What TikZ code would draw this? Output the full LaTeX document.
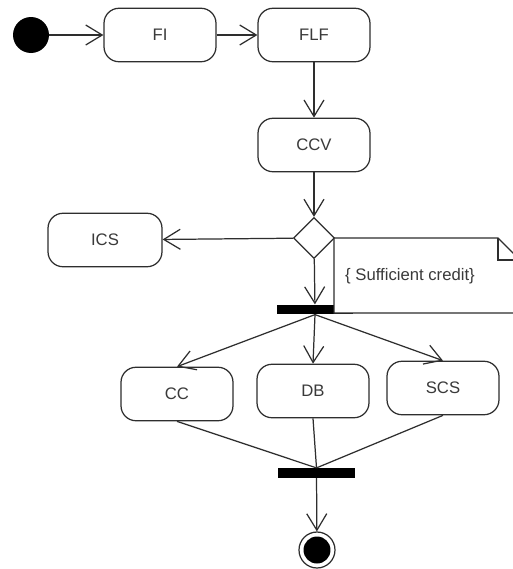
\documentclass[tikz,border=0pt]{standalone}
\usepackage{fontspec}
\setmainfont{Liberation Sans}
\usepackage{xcolor}
\usepackage{tikz}
\usetikzlibrary{arrows.meta,shapes.geometric}
\definecolor{ink}{HTML}{3A3A3A}
\definecolor{edge}{HTML}{2E2E2E}
\tikzset{
  act/.style={draw=edge, rounded corners=0.3cm, line width=0.7pt, minimum width=2.24cm,
    minimum height=1.07cm, inner sep=0pt, text=ink, font=\fontsize{9.5}{11}\selectfont},
  flow/.style={draw=edge, line width=0.7pt, -{Straight Barb[length=3.3mm,width=4mm,line width=0.7pt]}},
  plain/.style={draw=edge, line width=0.7pt},
  bar/.style={fill=black, minimum width=1.54cm, minimum height=0.19cm, inner sep=0pt},
  choice/.style={draw=edge, diamond, aspect=1, minimum width=0.82cm, minimum height=0.82cm,
    inner sep=0pt, line width=0.7pt},
  guard/.style={text=ink, font=\fontsize{9.5}{11}\selectfont, anchor=west}
}
\begin{document}
\begin{tikzpicture}[x=0.02cm, y=-0.02cm]
  \clip (0,0) rectangle (513,569);
  \fill[white] (0,0) rectangle (513,569);

  \node[circle, fill=black, minimum size=0.72cm, inner sep=0pt] (start) at (31,35) {};
  \node[act] (fi) at (160,35) {FI};
  \node[act] (flf) at (314,35) {FLF};
  \node[act] (ccv) at (314,145) {CCV};
  \node[choice] (dec) at (314,238) {};
  \node[act, minimum width=2.28cm] (ics) at (105,240) {ICS};
  \node[bar] (fork) at (315,309.5) {};

  % note with folded corner, runs past the right edge
  \draw[plain, fill=white] (334,238) -- (498,238) -- (520,260) -- (520,313) -- (334,313) -- cycle;
  \draw[plain] (498,238) -- (498,260) -- (520,260);
  \node[guard] (cond) at (339,276) {\{ Sufficient credit\}};

  \node[act] (cc) at (177,394) {CC};
  \node[act] (db) at (313,391) {DB};
  \node[act] (scs) at (443,388) {SCS};
  \node[bar] (join) at (316.5,473) {};
  \node[circle, draw=edge, line width=0.7pt, minimum size=0.72cm, inner sep=0pt] (end) at (317,550) {};
  \fill[black] (end.center) circle (0.27cm);

  \draw[flow] (start) -- (fi);
  \draw[flow] (fi) -- (flf);
  \draw[flow] (flf) -- (ccv);
  \draw[flow] (ccv) -- (dec);
  \draw[flow] (dec) -- (ics);
  \draw[flow] (dec) -- (fork);
  \draw[flow] (fork.south) -- (cc.north);
  \draw[flow] (fork.south) -- (db.north);
  \draw[flow] (fork.south) -- (scs.north);
  \draw[plain] (cc.south) -- (join.north);
  \draw[plain] (db.south) -- (join.north);
  \draw[plain] (scs.south) -- (join.north);
  \draw[flow] (join) -- (end);
\end{tikzpicture}
\end{document}
